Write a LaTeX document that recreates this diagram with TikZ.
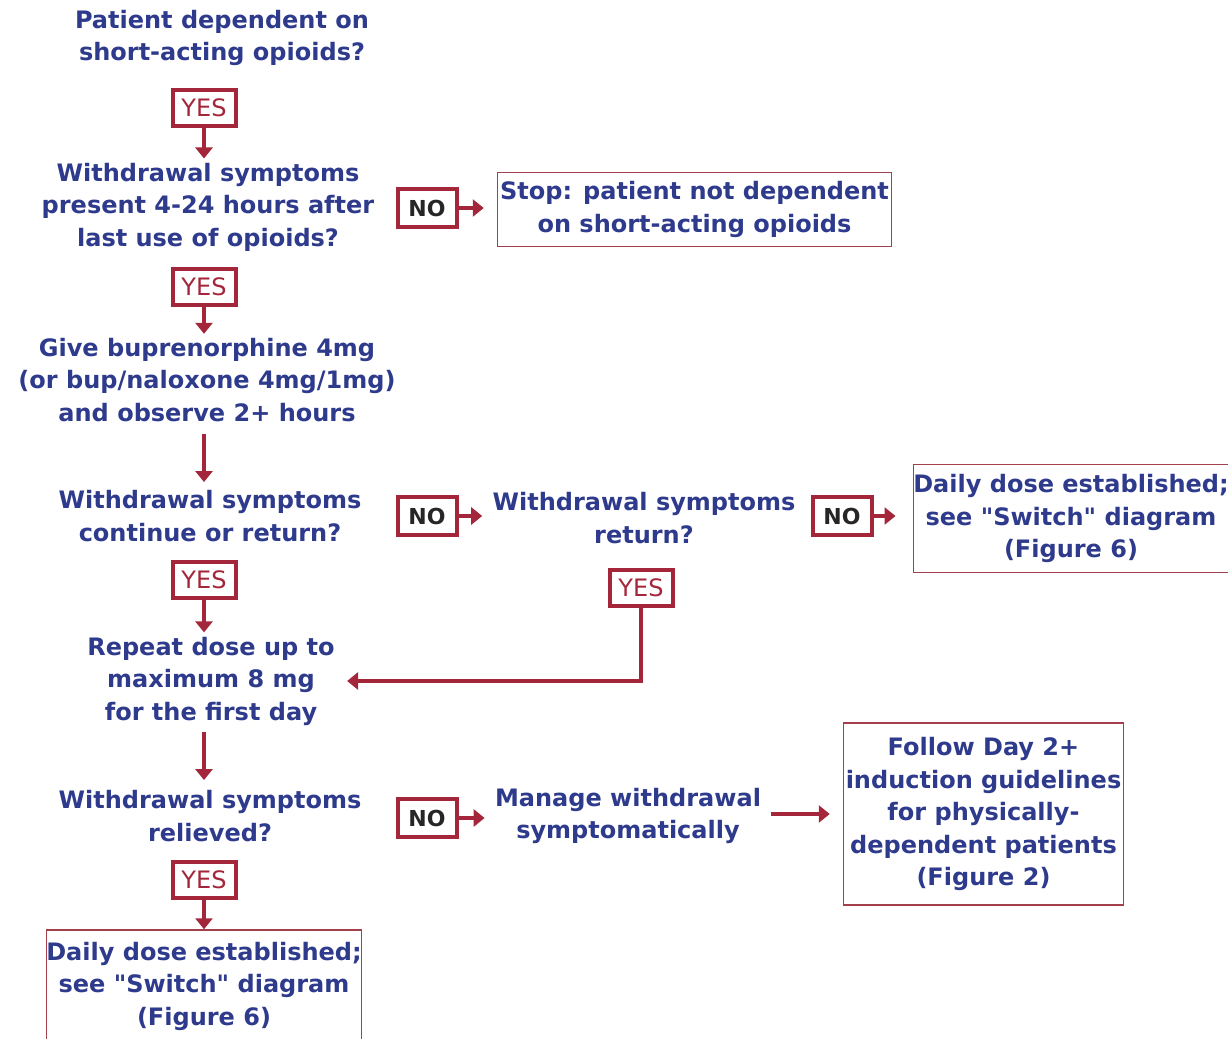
\documentclass[tikz,border=0pt]{standalone}
\usepackage{fontspec}
\usepackage{xcolor}
\usepackage{tikz}
\usetikzlibrary{arrows.meta,positioning}
\newfontfamily\flowfont{DejaVu Sans}
\definecolor{flowred}{HTML}{A3263A}
\definecolor{flownavy}{HTML}{2E3A8C}
\definecolor{flowbox}{HTML}{A3404C}
\tikzset{
    qtext/.style={align=center, text=flownavy, inner sep=2pt, font=\flowfont\bfseries\fontsize{12}{16.25}\selectfont},
    outbox/.style={qtext, draw=flowbox, line width=0.75pt, inner sep=0pt},
    yesbox/.style={draw=flowred, line width=2pt, text=flowred, inner sep=0pt, minimum width=31.5pt, minimum height=18pt, font=\flowfont\fontsize{12}{13}\selectfont},
    nobox/.style={yesbox, text=black!85, minimum width=29.5pt, minimum height=19pt, font=\flowfont\bfseries\fontsize{11}{12}\selectfont},
    flowarrow/.style={-{Triangle[width=8.5pt,length=5.5pt]}, draw=flowred, line width=1.8pt}
}
\begin{document}
\begin{tikzpicture}[x=0.5pt, y=-0.5pt]
        \useasboundingbox (0,0) rectangle (1228,1039);
        % main column
        \node[qtext] (dep) at (222,38) {Patient dependent on\\short-acting opioids?};
        \node[yesbox] (yes1) at (204,108) {YES};
        \node[qtext] (wd1) at (208,207) {Withdrawal symptoms\\present 4-24 hours after\\last use of opioids?};
        \node[nobox] (no1) at (427,208) {NO};
        \node[outbox, minimum width=197pt, minimum height=37pt] (stop) at (694.5,209.5) {Stop: patient not dependent\\on short-acting opioids};
        \node[yesbox] (yes2) at (204,287) {YES};
        \node[qtext] (give) at (207,380) {Give buprenorphine 4mg\\(or bup/naloxone 4mg/1mg)\\and observe 2+ hours};
        \node[qtext] (wd2) at (210,516) {Withdrawal symptoms\\continue or return?};
        \node[nobox] (no2) at (427,516) {NO};
        \node[qtext] (wd3) at (644,518) {Withdrawal symptoms\\return?};
        \node[nobox] (no3) at (842,516) {NO};
        \node[outbox, minimum width=156pt, minimum height=54pt] (daily1) at (1071,518.5) {Daily dose established;\\see "Switch" diagram\\(Figure 6)};
        \node[yesbox] (yes3) at (204,580) {YES};
        \node[yesbox] (yes4) at (641,588) {YES};
        \node[qtext] (rep) at (211,681) {Repeat dose up to\\maximum 8 mg\\for the first day};
        \node[qtext] (wd4) at (210,816) {Withdrawal symptoms\\relieved?};
        \node[nobox] (no4) at (427,818) {NO};
        \node[qtext] (manage) at (628,816) {Manage withdrawal\\symptomatically};
        \node[outbox, minimum width=140pt, minimum height=91pt] (follow) at (983.5,814) {Follow Day 2+\\induction guidelines\\for physically-\\dependent patients\\(Figure 2)};
        \node[yesbox] (yes5) at (204,880) {YES};
        \node[outbox, minimum width=157pt, minimum height=56pt] (daily2) at (204,986) {Daily dose established;\\see "Switch" diagram\\(Figure 6)};
        % connectors
        \draw[flowarrow] (yes1.south) -- (yes1.south |- wd1.north);
        \draw[flowarrow] (yes2.south) -- (yes2.south |- give.north);
        \draw[flowarrow] (yes3.south) -- (yes3.south |- rep.north);
        \draw[flowarrow] (yes5.south) -- (daily2.north);
        \draw[flowarrow] ([yshift=-4pt]give.south -| yes2.south) -- ([yshift=2pt]wd2.north -| yes2.south);
        \draw[flowarrow] ([yshift=-1pt]rep.south -| yes3.south) -- ([yshift=3pt]wd4.north -| yes3.south);
        \draw[flowarrow, shorten >=6.5pt] (no1.east) -- (no1.east -| stop.west);
        \draw[flowarrow, shorten >=3pt] (no2.east) -- (no2.east -| wd3.west);
        \draw[flowarrow, shorten >=8.5pt] (no3.east) -- (no3.east -| daily1.west);
        \draw[flowarrow, shorten >=3pt] (no4.east) -- (no4.east -| manage.west);
        \draw[flowarrow, shorten <=3pt, shorten >=6.5pt] (manage.east |- follow.west) -- (follow.west);
        \draw[flowarrow, shorten >=4pt] (yes4.south) |- (rep.east);
    \end{tikzpicture}
\end{document}
